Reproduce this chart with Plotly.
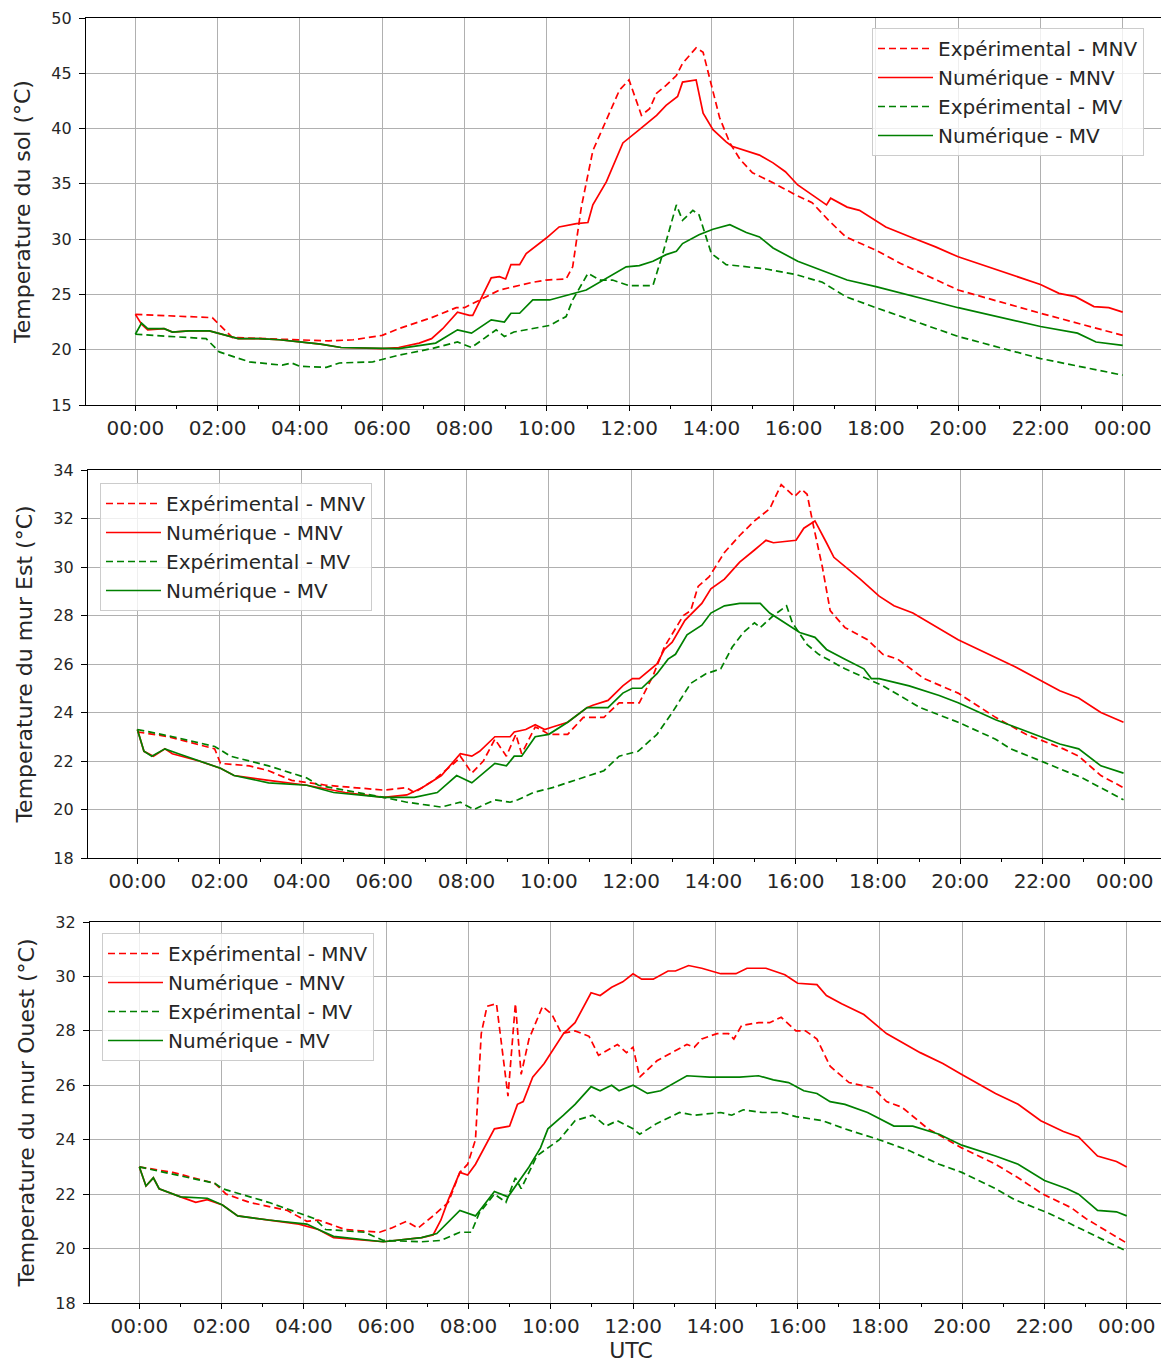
import plotly.graph_objects as go
from plotly.subplots import make_subplots

# heures (UTC) et températures
sol_exp_mnv_t = [0, 1.87, 2.36, 3.0, 4.0, 4.7, 5.3, 6.0, 6.4, 7.2, 7.8, 8.0, 8.85, 9.66, 9.98, 10.47, 10.63, 10.84, 11.12, 11.45, 11.77, 12.0, 12.3, 12.5, 12.67, 12.9, 13.15, 13.3, 13.63, 13.8, 13.95, 14.2, 14.45, 14.7, 15.0, 15.5, 16.05, 16.45, 16.85, 17.27, 18.0, 18.6, 20.0, 22.0, 24.0]
sol_exp_mnv = [23.2, 22.9, 21.1, 21.0, 20.9, 20.8, 20.9, 21.3, 21.9, 22.9, 23.8, 23.8, 25.4, 26.1, 26.3, 26.4, 27.5, 32.9, 38.0, 40.8, 43.5, 44.4, 41.2, 41.8, 43.2, 43.9, 44.8, 45.9, 47.3, 46.9, 44.7, 41.0, 38.7, 37.2, 36.0, 35.1, 34.0, 33.3, 31.7, 30.2, 29.0, 27.8, 25.4, 23.3, 21.3]

sol_num_mnv_t = [0, 0.15, 0.3, 0.7, 0.9, 1.3, 1.8, 2.0, 2.5, 3.0, 3.5, 4.0, 4.5, 5.0, 6.0, 6.4, 6.9, 7.2, 7.47, 7.83, 8.12, 8.2, 8.65, 8.85, 9.0, 9.13, 9.34, 9.5, 9.99, 10.3, 10.72, 11.0, 11.12, 11.45, 11.85, 12.25, 12.67, 12.9, 13.18, 13.3, 13.63, 13.8, 14.04, 14.36, 14.5, 15.17, 15.5, 15.8, 16.1, 16.45, 16.8, 16.9, 17.3, 17.6, 18.24, 18.9, 19.45, 20.0, 21.27, 22.0, 22.45, 22.85, 23.3, 23.66, 24.0]
sol_num_mnv = [23.2, 22.3, 21.8, 21.9, 21.6, 21.7, 21.7, 21.5, 21.0, 21.0, 20.9, 20.7, 20.5, 20.2, 20.1, 20.2, 20.6, 21.0, 21.9, 23.4, 23.1, 23.1, 26.5, 26.6, 26.4, 27.7, 27.7, 28.7, 30.1, 31.1, 31.4, 31.5, 33.1, 35.2, 38.7, 39.9, 41.2, 42.1, 42.9, 44.2, 44.4, 41.4, 39.9, 38.8, 38.4, 37.6, 36.9, 36.1, 34.9, 34.0, 33.1, 33.7, 32.9, 32.6, 31.1, 30.1, 29.3, 28.4, 26.8, 25.9, 25.1, 24.8, 23.9, 23.8, 23.4]

sol_exp_mv_t = [0, 1.72, 2.04, 2.77, 3.57, 3.8, 4.0, 4.64, 4.96, 5.77, 6.4, 7.2, 7.83, 8.17, 8.77, 8.97, 9.2, 10.07, 10.47, 10.63, 11.0, 11.3, 11.6, 12.0, 12.58, 12.82, 13.15, 13.3, 13.55, 13.7, 14.0, 14.36, 15.33, 16.05, 16.7, 17.27, 18.0, 20.0, 22.0, 24.0]
sol_exp_mv = [21.4, 21.0, 19.8, 18.9, 18.6, 18.8, 18.5, 18.4, 18.8, 18.9, 19.5, 20.1, 20.7, 20.2, 21.8, 21.2, 21.6, 22.2, 23.0, 24.5, 26.9, 26.3, 26.3, 25.8, 25.8, 28.7, 33.1, 31.7, 32.6, 32.2, 28.7, 27.7, 27.3, 26.8, 26.1, 24.8, 23.8, 21.2, 19.2, 17.7]

sol_num_mv_t = [0, 0.15, 0.3, 0.7, 0.9, 1.3, 1.8, 2.0, 2.5, 3.0, 3.5, 4.0, 4.5, 5.0, 6.0, 6.4, 7.3, 7.83, 8.17, 8.65, 8.97, 9.13, 9.34, 9.66, 10.07, 10.96, 11.93, 12.25, 12.58, 12.9, 13.15, 13.3, 13.7, 14.04, 14.45, 14.85, 15.17, 15.5, 16.1, 17.3, 18.0, 20.0, 22.0, 22.9, 23.35, 24.0]
sol_num_mv = [21.4, 22.4, 21.9, 21.9, 21.6, 21.7, 21.7, 21.5, 21.0, 21.0, 20.9, 20.7, 20.5, 20.2, 20.1, 20.1, 20.6, 21.8, 21.5, 22.7, 22.5, 23.3, 23.3, 24.5, 24.5, 25.4, 27.5, 27.6, 28.0, 28.6, 28.9, 29.6, 30.4, 30.9, 31.3, 30.6, 30.2, 29.2, 28.0, 26.3, 25.7, 23.8, 22.1, 21.5, 20.7, 20.4]

est_exp_mnv_t = [0, 0.76, 1.88, 2.02, 2.72, 3.19, 3.75, 4.12, 4.59, 5.99, 6.55, 6.73, 7.2, 7.76, 7.85, 8.13, 8.41, 8.69, 8.97, 9.2, 9.34, 9.67, 9.81, 10.0, 10.46, 10.84, 11.34, 11.71, 12.01, 12.2, 12.53, 12.81, 13.27, 13.45, 13.63, 13.9, 14.27, 14.64, 15.0, 15.37, 15.65, 15.97, 16.15, 16.28, 16.42, 16.65, 16.84, 17.2, 17.75, 18.12, 18.48, 19.12, 19.95, 20.86, 21.6, 22.51, 22.88, 23.42, 23.97]
est_exp_mnv = [23.2, 23.0, 22.5, 21.9, 21.8, 21.6, 21.2, 21.1, 21.0, 20.8, 20.9, 20.7, 21.2, 22.0, 22.2, 21.5, 22.0, 22.9, 22.2, 23.1, 22.3, 23.4, 23.3, 23.1, 23.1, 23.8, 23.8, 24.4, 24.4, 24.4, 25.5, 26.7, 28.0, 28.2, 29.2, 29.6, 30.6, 31.3, 31.9, 32.4, 33.4, 32.9, 33.2, 33.0, 31.8, 30.0, 28.2, 27.5, 27.0, 26.4, 26.2, 25.4, 24.8, 23.8, 23.1, 22.5, 22.2, 21.4, 20.9]

est_num_mnv_t = [0, 0.16, 0.39, 0.67, 0.85, 1.5, 2.02, 2.35, 3.19, 4.12, 5.05, 5.99, 6.55, 6.92, 7.39, 7.85, 8.13, 8.32, 8.69, 9.06, 9.16, 9.44, 9.67, 9.9, 10.09, 10.46, 10.93, 11.07, 11.44, 11.8, 12.03, 12.2, 12.63, 12.81, 13.0, 13.31, 13.72, 13.94, 14.27, 14.64, 15.0, 15.28, 15.46, 16.01, 16.2, 16.47, 16.75, 16.93, 17.57, 18.03, 18.39, 18.85, 19.95, 21.32, 22.42, 22.88, 23.42, 23.97]
est_num_mnv = [23.3, 22.4, 22.2, 22.5, 22.3, 22.0, 21.7, 21.4, 21.2, 21.0, 20.7, 20.5, 20.6, 20.9, 21.4, 22.3, 22.2, 22.4, 23.0, 23.0, 23.2, 23.3, 23.5, 23.3, 23.4, 23.6, 24.2, 24.3, 24.5, 25.1, 25.4, 25.4, 26.0, 26.6, 26.9, 27.8, 28.5, 29.1, 29.5, 30.2, 30.7, 31.1, 31.0, 31.1, 31.6, 31.9, 31.0, 30.4, 29.5, 28.8, 28.4, 28.1, 27.0, 25.9, 24.9, 24.6, 24.0, 23.6]

est_exp_mv_t = [0, 0.86, 1.88, 2.26, 3.19, 4.12, 4.4, 5.05, 5.99, 6.55, 6.92, 7.39, 7.85, 8.18, 8.69, 9.06, 9.25, 9.62, 10.09, 10.65, 11.34, 11.71, 12.17, 12.63, 13.0, 13.45, 13.82, 14.18, 14.46, 14.73, 15.0, 15.14, 15.46, 15.78, 15.92, 16.28, 16.56, 17.2, 18.12, 19.03, 19.95, 20.86, 21.23, 21.96, 22.97, 23.97]
est_exp_mv = [23.3, 23.0, 22.6, 22.2, 21.8, 21.3, 21.0, 20.8, 20.5, 20.3, 20.2, 20.1, 20.3, 20.0, 20.4, 20.3, 20.4, 20.7, 20.9, 21.2, 21.6, 22.2, 22.4, 23.1, 24.0, 25.2, 25.6, 25.8, 26.7, 27.3, 27.7, 27.5, 28.0, 28.4, 27.7, 26.8, 26.4, 25.8, 25.1, 24.2, 23.6, 22.9, 22.5, 22.0, 21.3, 20.4]

est_num_mv_t = [0, 0.16, 0.35, 0.67, 1.0, 1.5, 2.02, 2.35, 3.19, 4.12, 4.77, 5.99, 6.73, 7.29, 7.76, 8.13, 8.69, 8.97, 9.16, 9.34, 9.67, 10.0, 10.46, 10.93, 11.44, 11.8, 12.03, 12.26, 12.63, 12.9, 13.08, 13.36, 13.72, 13.94, 14.27, 14.64, 15.14, 15.37, 15.74, 16.1, 16.47, 16.75, 17.2, 17.66, 17.84, 18.03, 18.76, 19.49, 19.95, 20.86, 21.96, 22.42, 22.88, 23.42, 23.97]
est_num_mv = [23.3, 22.4, 22.2, 22.5, 22.3, 22.0, 21.7, 21.4, 21.1, 21.0, 20.7, 20.5, 20.5, 20.7, 21.4, 21.1, 21.9, 21.8, 22.2, 22.2, 23.0, 23.1, 23.6, 24.2, 24.2, 24.8, 25.0, 25.0, 25.6, 26.2, 26.4, 27.2, 27.6, 28.1, 28.4, 28.5, 28.5, 28.1, 27.7, 27.3, 27.1, 26.6, 26.2, 25.8, 25.4, 25.4, 25.1, 24.7, 24.4, 23.7, 23.0, 22.7, 22.5, 21.8, 21.5]

ouest_exp_mnv_t = [0, 0.81, 1.83, 2.11, 2.67, 3.6, 4.07, 4.35, 5.0, 5.84, 6.12, 6.49, 6.77, 7.14, 7.51, 7.79, 7.98, 8.17, 8.31, 8.45, 8.68, 8.96, 9.14, 9.28, 9.47, 9.8, 10.03, 10.26, 10.59, 10.93, 11.16, 11.62, 11.84, 12.0, 12.16, 12.58, 12.94, 13.31, 13.49, 13.67, 14.04, 14.32, 14.45, 14.64, 15.05, 15.32, 15.6, 15.96, 16.19, 16.47, 16.79, 17.25, 17.84, 18.16, 18.53, 19.17, 19.99, 20.81, 21.36, 21.96, 22.65, 23.01, 23.56, 24.0]
ouest_exp_mnv = [23.0, 22.8, 22.4, 22.0, 21.7, 21.4, 21.0, 21.05, 20.7, 20.6, 20.75, 21.0, 20.75, 21.2, 21.7, 22.8, 23.1, 24.0, 27.9, 28.9, 29.0, 25.6, 29.0, 26.4, 27.7, 28.9, 28.6, 27.9, 28.0, 27.8, 27.1, 27.5, 27.2, 27.4, 26.3, 26.9, 27.2, 27.5, 27.4, 27.7, 27.9, 27.9, 27.7, 28.2, 28.3, 28.3, 28.5, 28.0, 28.0, 27.7, 26.7, 26.1, 25.9, 25.4, 25.2, 24.4, 23.7, 23.1, 22.6, 22.0, 21.5, 21.1, 20.6, 20.2]

ouest_num_mnv_t = [0, 0.16, 0.34, 0.48, 1.0, 1.37, 1.65, 2.02, 2.39, 3.14, 3.88, 4.35, 4.72, 5.93, 6.86, 7.14, 7.33, 7.51, 7.79, 7.98, 8.17, 8.63, 9.0, 9.19, 9.33, 9.56, 9.84, 10.31, 10.59, 10.98, 11.2, 11.48, 11.75, 12.0, 12.21, 12.49, 12.85, 13.03, 13.35, 13.67, 14.13, 14.5, 14.77, 15.23, 15.69, 16.0, 16.47, 16.7, 17.07, 17.61, 18.16, 18.98, 19.53, 19.99, 20.81, 21.36, 21.91, 22.46, 22.83, 23.29, 23.75, 24.0]
ouest_num_mnv = [23.0, 22.3, 22.6, 22.2, 21.9, 21.7, 21.8, 21.6, 21.2, 21.05, 20.9, 20.7, 20.4, 20.25, 20.4, 20.5, 21.05, 21.8, 22.8, 22.7, 23.1, 24.4, 24.5, 25.3, 25.4, 26.3, 26.8, 27.9, 28.3, 29.4, 29.3, 29.6, 29.8, 30.1, 29.9, 29.9, 30.2, 30.2, 30.4, 30.3, 30.1, 30.1, 30.3, 30.3, 30.06, 29.75, 29.7, 29.3, 29.0, 28.6, 27.9, 27.2, 26.8, 26.4, 25.7, 25.3, 24.7, 24.3, 24.1, 23.4, 23.2, 23.0]

ouest_exp_mv_t = [0, 1.83, 2.02, 3.14, 4.26, 4.53, 5.47, 5.93, 6.86, 7.33, 7.79, 8.07, 8.26, 8.63, 8.91, 9.14, 9.28, 9.66, 9.93, 10.21, 10.59, 11.02, 11.34, 11.62, 12.0, 12.16, 12.58, 13.13, 13.49, 14.13, 14.4, 14.68, 15.14, 15.6, 15.96, 16.6, 17.15, 17.98, 18.71, 19.44, 19.99, 20.81, 21.27, 22.1, 22.92, 24.0]
ouest_exp_mv = [23.0, 22.4, 22.2, 21.7, 21.1, 20.7, 20.6, 20.3, 20.25, 20.3, 20.6, 20.6, 21.3, 22.0, 21.7, 22.6, 22.2, 23.4, 23.7, 24.0, 24.7, 24.9, 24.5, 24.7, 24.4, 24.2, 24.6, 25.0, 24.9, 25.0, 24.9, 25.1, 25.0, 25.0, 24.85, 24.7, 24.4, 24.0, 23.6, 23.1, 22.8, 22.2, 21.8, 21.3, 20.7, 19.9]

ouest_num_mv_t = [0, 0.16, 0.34, 0.48, 1.0, 1.65, 2.02, 2.39, 3.14, 4.07, 4.35, 4.72, 5.93, 6.86, 7.23, 7.79, 8.17, 8.63, 8.96, 9.28, 9.47, 9.75, 9.93, 10.31, 10.59, 10.98, 11.2, 11.48, 11.66, 12.0, 12.35, 12.67, 13.03, 13.31, 13.86, 14.59, 15.05, 15.41, 15.78, 16.15, 16.47, 16.79, 17.15, 17.7, 18.34, 18.8, 19.44, 19.99, 20.81, 21.36, 22.0, 22.55, 22.83, 23.29, 23.75, 24.0]
ouest_num_mv = [23.0, 22.3, 22.6, 22.2, 21.9, 21.85, 21.6, 21.2, 21.05, 20.9, 20.7, 20.45, 20.25, 20.4, 20.55, 21.4, 21.2, 22.1, 21.9, 22.6, 23.0, 23.7, 24.4, 24.9, 25.3, 25.95, 25.8, 26.0, 25.8, 26.0, 25.7, 25.8, 26.1, 26.35, 26.3, 26.3, 26.35, 26.2, 26.1, 25.8, 25.7, 25.4, 25.3, 25.0, 24.5, 24.5, 24.2, 23.8, 23.4, 23.1, 22.5, 22.2, 22.0, 21.4, 21.35, 21.2]

tick_hours = list(range(0, 25, 2))
tick_labels = ["%02d:00" % (h % 24) for h in tick_hours]
minor_hours = list(range(1, 24, 2))

noms = ["Expérimental - MNV", "Numérique - MNV", "Expérimental - MV", "Numérique - MV"]
y_titles = ["Temperature du sol (°C)", "Temperature du mur Est (°C)", "Temperature du mur Ouest (°C)"]
y_ranges = [[15, 50], [18, 34], [18, 32]]
y_dticks = [5, 2, 2]

panels = [
    [(sol_exp_mnv_t, sol_exp_mnv), (sol_num_mnv_t, sol_num_mnv), (sol_exp_mv_t, sol_exp_mv), (sol_num_mv_t, sol_num_mv)],
    [(est_exp_mnv_t, est_exp_mnv), (est_num_mnv_t, est_num_mnv), (est_exp_mv_t, est_exp_mv), (est_num_mv_t, est_num_mv)],
    [(ouest_exp_mnv_t, ouest_exp_mnv), (ouest_num_mnv_t, ouest_num_mnv), (ouest_exp_mv_t, ouest_exp_mv), (ouest_num_mv_t, ouest_num_mv)],
]
colors = ["#ff0000", "#ff0000", "#008000", "#008000"]
dashes = ["7px,4px", "solid", "7px,4px", "solid"]

W, H = 1169, 1362
OFF = 8  # marge par défaut du <body> de la page
fig = make_subplots(rows=3, cols=1)

legend_names = ["legend", "legend2", "legend3"]
for i, series in enumerate(panels):
    for j, (t, v) in enumerate(series):
        fig.add_trace(go.Scatter(x=t, y=v, mode="lines", name=noms[j],
                                 line=dict(color=colors[j], width=1.7, dash=dashes[j]),
                                 legend=legend_names[i]), row=i + 1, col=1)

# positions des axes (pixels de l'image d'origine)
y_pix = [(18, 405), (470, 858), (922, 1303)]
x_left = [86, 88, 90]
txt = "#262626"

for i in range(3):
    top, bot = y_pix[i]
    fig.update_yaxes(row=i + 1, col=1, domain=[1 - (bot - OFF) / H, 1 - (top - OFF) / H],
                     range=y_ranges[i], dtick=y_dticks[i], tick0=0,
                     showgrid=True, gridcolor="#b0b0b0", gridwidth=1,
                     showline=True, linecolor="black", linewidth=1.3, mirror=True,
                     ticks="outside", ticklen=6, tickcolor="black", ticklabelstandoff=4,
                     tickfont=dict(family="DejaVu Sans", size=16, color=txt), zeroline=False, automargin=False,
                     title=dict(text=y_titles[i], font=dict(family="DejaVu Sans", size=22, color=txt), standoff=14))
    fig.update_xaxes(row=i + 1, col=1, domain=[(x_left[i] - OFF) / W, (x_left[i] + 1082 - OFF) / W],
                     range=[-1.2, 25.1], tickmode="array", tickvals=tick_hours, ticktext=tick_labels,
                     showgrid=True, gridcolor="#b0b0b0", gridwidth=1,
                     showline=True, linecolor="black", linewidth=1.3, mirror=True,
                     ticks="outside", ticklen=5, tickcolor="black",
                     minor=dict(tickvals=minor_hours, ticks="outside", ticklen=3, tickcolor="black", showgrid=False),
                     tickfont=dict(family="DejaVu Sans", size=20, color=txt), zeroline=False, automargin=False)

fig.update_xaxes(row=3, col=1, title=dict(text="UTC", font=dict(family="DejaVu Sans", size=22, color=txt), standoff=2))

leg_style = dict(bgcolor="rgba(255,255,255,0.8)", bordercolor="#cccccc", borderwidth=1,
                 font=dict(family="DejaVu Sans", size=20, color=txt),
                 xanchor="left", yanchor="top", itemwidth=55, tracegroupgap=0)
fig.update_layout(
    width=W, height=H,
    margin=dict(l=0, r=0, t=0, b=0),
    plot_bgcolor="white", paper_bgcolor="white",
    legend=dict(x=(872 - OFF) / W, y=1 - (28 - OFF) / H, **leg_style),
    legend2=dict(x=(100 - OFF) / W, y=1 - (483 - OFF) / H, **leg_style),
    legend3=dict(x=(102 - OFF) / W, y=1 - (933 - OFF) / H, **leg_style),
)

fig.write_html("out.html")
